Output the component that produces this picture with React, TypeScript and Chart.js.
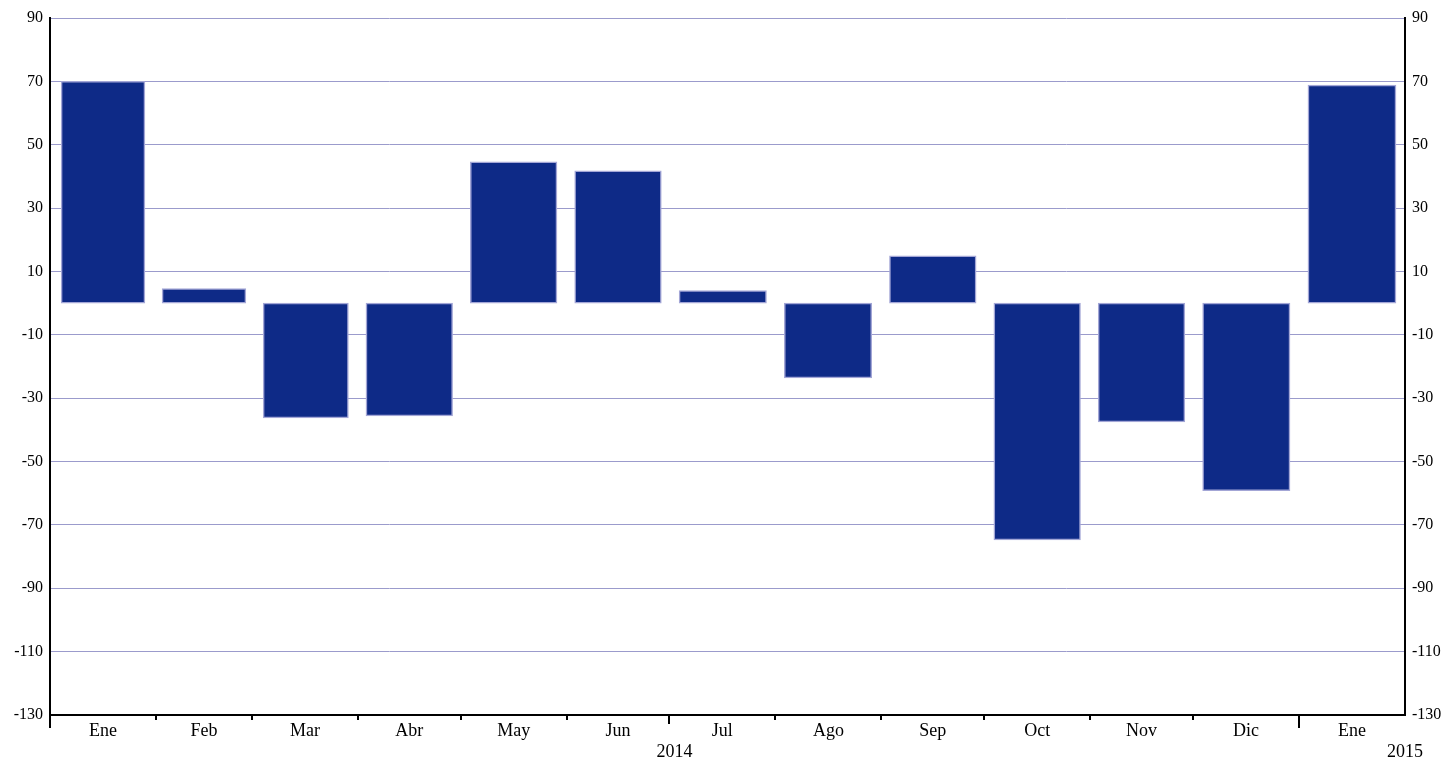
import React, { useEffect, useRef } from "react";
import { Chart, registerables } from "chart.js";

Chart.register(...registerables);

const months = ["Ene", "Feb", "Mar", "Abr", "May", "Jun", "Jul", "Ago", "Sep", "Oct", "Nov", "Dic", "Ene"];
const monthDays = [31, 28, 31, 30, 31, 30, 31, 31, 30, 31, 30, 31, 31];
const values = [70, 4.6, -36.2, -35.6, 44.6, 41.8, 4, -23.6, 14.9, -74.7, -37.5, -59.2, 68.8];
const yearLabels = ["2014", "2015"];
const yearStartMonth = [0, 12];
const yTicks = { min: -130, max: 90, step: 20 };

// derived calendar positions (in days)
const monthStarts: number[] = [];
monthDays.reduce((acc, d) => {
  monthStarts.push(acc);
  return acc + d;
}, 0);
const totalDays = monthDays.reduce((a, b) => a + b, 0);
const monthMids = monthStarts.map((s, i) => s + monthDays[i] / 2);

const FONT = "'Liberation Serif', 'Times New Roman', serif";

const tickPlugin = {
  id: "customTicks",
  afterDraw(chart: any) {
    const ctx = chart.ctx;
    const x = chart.scales.x;
    const area = chart.chartArea;
    ctx.save();
    ctx.strokeStyle = "#000";
    ctx.lineWidth = 2;
    monthStarts.forEach((s, i) => {
      const px = Math.round(x.getPixelForValue(s));
      let len = 5;
      if (yearStartMonth.includes(i)) len = 13;
      else if (i === 6) len = 9;
      ctx.beginPath();
      ctx.moveTo(px, area.bottom);
      ctx.lineTo(px, area.bottom + len);
      ctx.stroke();
    });
    ctx.fillStyle = "#000";
    ctx.font = `18px ${FONT}`;
    ctx.textAlign = "center";
    ctx.textBaseline = "middle";
    const y = area.bottom + 37;
    const x2014 = (x.getPixelForValue(monthStarts[0]) + x.getPixelForValue(monthStarts[12])) / 2;
    ctx.fillText(yearLabels[0], x2014, y);
    ctx.fillText(yearLabels[1], x.getPixelForValue(totalDays), y);
    ctx.restore();
  },
};

export default function App() {
  const ref = useRef<HTMLCanvasElement>(null);
  useEffect(() => {
    if (!ref.current) return;
    const chart = new Chart(ref.current, {
      type: "bar",
      data: {
        datasets: [
          {
            data: values.map((v, i) => ({ x: monthMids[i], y: v })),
            backgroundColor: "#0e2a87",
            borderColor: "#a3a6d6",
            borderWidth: 1.5,
            borderSkipped: false,
            barThickness: "flex",
            barPercentage: 0.83,
            categoryPercentage: 1,
          },
        ],
      },
      options: {
        animation: false,
        responsive: false,
        maintainAspectRatio: false,
        layout: { padding: { top: 18, left: 0, right: 0, bottom: 0 } },
        plugins: { legend: { display: false }, tooltip: { enabled: false } },
        scales: {
          x: {
            type: "linear",
            min: 0,
            max: totalDays,
            offset: false,
            grid: { display: false, drawTicks: false },
            border: { display: true, color: "#000", width: 2 },
            afterBuildTicks: (s: any) => {
              s.ticks = monthMids.map((v) => ({ value: v }));
            },
            ticks: {
              color: "#000",
              font: { family: FONT, size: 18 },
              padding: 5,
              maxRotation: 0,
              autoSkip: false,
              callback: (_v: any, i: number) => months[i],
            },
            afterFit: (s: any) => {
              s.height = 45;
            },
          },
          y: {
            position: "left",
            min: yTicks.min,
            max: yTicks.max,
            ticks: { stepSize: yTicks.step, color: "#000", font: { family: FONT, size: 16 }, padding: 7 },
            grid: { color: "#9b9bcc", lineWidth: 1, drawTicks: false },
            border: { display: true, color: "#000", width: 2 },
            afterFit: (s: any) => {
              s.width = 50;
            },
          },
          y2: {
            position: "right",
            min: yTicks.min,
            max: yTicks.max,
            ticks: { stepSize: yTicks.step, color: "#000", font: { family: FONT, size: 16 }, padding: 7 },
            grid: { display: false, drawTicks: false },
            border: { display: true, color: "#000", width: 2 },
            afterFit: (s: any) => {
              s.width = 43;
            },
          },
        },
      },
      plugins: [tickPlugin],
    });
    return () => chart.destroy();
  }, []);
  return (
    <div style={{ position: "fixed", left: 0, top: 0, width: 1448, height: 760, background: "#fff" }}>
      <canvas ref={ref} width={1448} height={760} style={{ width: 1448, height: 760, display: "block" }} />
    </div>
  );
}
